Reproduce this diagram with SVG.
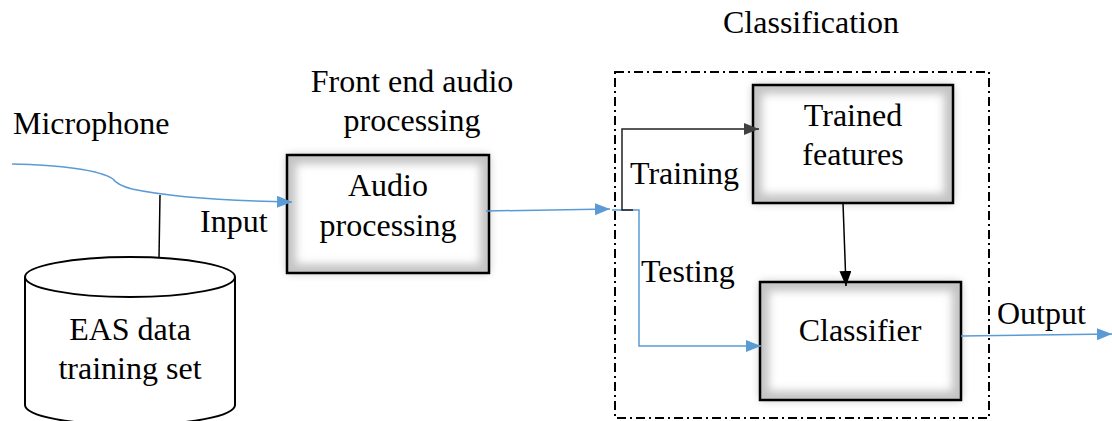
<svg xmlns="http://www.w3.org/2000/svg" width="1112" height="421" viewBox="0 0 1112 421">
<defs>
<filter id="blur" x="-20%" y="-20%" width="140%" height="140%"><feGaussianBlur stdDeviation="4"/></filter>
<filter id="blur2" x="-20%" y="-20%" width="140%" height="140%"><feGaussianBlur stdDeviation="5"/></filter>
<marker id="ab" markerUnits="userSpaceOnUse" markerWidth="16" markerHeight="14" refX="15" refY="6" orient="auto"><path d="M0,0 L15,6 L0,12 z" fill="#5B9BD5"/></marker>
<marker id="ad" markerUnits="userSpaceOnUse" markerWidth="16" markerHeight="14" refX="15" refY="6" orient="auto"><path d="M0,0 L15,6 L0,12 z" fill="#404040"/></marker>
<marker id="ak" markerUnits="userSpaceOnUse" markerWidth="16" markerHeight="14" refX="15" refY="6" orient="auto"><path d="M0,0 L15,6 L0,12 z" fill="#000"/></marker>
<clipPath id="c1"><rect x="287" y="155" width="202" height="118"/></clipPath>
<clipPath id="c2"><rect x="753" y="85" width="200" height="118"/></clipPath>
<clipPath id="c3"><rect x="760" y="282" width="201" height="118"/></clipPath>
</defs>
<rect width="1112" height="421" fill="#fff"/>

<g id="labels" font-size="32" font-family="Liberation Serif">
<text x="811" y="33" text-anchor="middle">Classification</text>
<text x="412" y="92" text-anchor="middle">Front end audio</text>
<text x="412" y="131" text-anchor="middle">processing</text>
<text x="13" y="134">Microphone</text>
<text x="200" y="232">Input</text>
<text x="630" y="184">Training</text>
<text x="641" y="282">Testing</text>
<text x="997" y="324">Output</text>
</g>

<g id="classification-group">
<rect x="615" y="72" width="374" height="346" fill="none" stroke="#000" stroke-width="2" stroke-dasharray="9,4,2,4"/>
</g>

<g id="eas-data" font-size="32" font-family="Liberation Serif">
<path d="M25,277 L25,405 A105,20 0 0 0 235,405 L235,277" fill="#fff" stroke="#000" stroke-width="2"/>
<ellipse cx="130" cy="277" rx="105" ry="20" fill="#fff" stroke="#000" stroke-width="2"/>
<text x="130" y="340" text-anchor="middle">EAS data</text>
<text x="130" y="379" text-anchor="middle">training set</text>
</g>

<g id="audio-processing" font-size="32" font-family="Liberation Serif">
<rect x="287" y="155" width="202" height="118" fill="#000" opacity="0.25" filter="url(#blur2)"/>
<rect x="287" y="155" width="202" height="118" fill="#fff"/>
<g clip-path="url(#c1)"><rect x="287" y="155" width="202" height="118" fill="none" stroke="#c4c4c4" stroke-width="18" filter="url(#blur)"/></g>
<rect x="287" y="155" width="202" height="118" fill="none" stroke="#000" stroke-width="2.5"/>
<text x="388" y="196" text-anchor="middle">Audio</text>
<text x="388" y="236" text-anchor="middle">processing</text>
</g>

<g id="trained-features" font-size="32" font-family="Liberation Serif">
<rect x="753" y="85" width="200" height="118" fill="#000" opacity="0.25" filter="url(#blur2)"/>
<rect x="753" y="85" width="200" height="118" fill="#fff"/>
<g clip-path="url(#c2)"><rect x="753" y="85" width="200" height="118" fill="none" stroke="#c4c4c4" stroke-width="18" filter="url(#blur)"/></g>
<rect x="753" y="85" width="200" height="118" fill="none" stroke="#000" stroke-width="2.5"/>
<text x="853" y="126" text-anchor="middle">Trained</text>
<text x="853" y="165" text-anchor="middle">features</text>
</g>

<g id="classifier" font-size="32" font-family="Liberation Serif">
<rect x="760" y="282" width="201" height="118" fill="#000" opacity="0.25" filter="url(#blur2)"/>
<rect x="760" y="282" width="201" height="118" fill="#fff"/>
<g clip-path="url(#c3)"><rect x="760" y="282" width="201" height="118" fill="none" stroke="#c4c4c4" stroke-width="18" filter="url(#blur)"/></g>
<rect x="760" y="282" width="201" height="118" fill="none" stroke="#000" stroke-width="2.5"/>
<text x="860" y="341" text-anchor="middle">Classifier</text>
</g>

<g id="connectors" fill="none" stroke-width="1.5">
<path stroke="#5B9BD5" d="M12,164 C60,165 100,170 113,179 Q117,185 132,189 C170,197 230,201 292,202" marker-end="url(#ab)"/>
<path stroke="#000" d="M160,195 L159,258"/>
<path stroke="#5B9BD5" d="M486,211 L610,209" marker-end="url(#ab)"/>
<path stroke="#5B9BD5" d="M612,210 L639,210 L639,346 L761,346" marker-end="url(#ab)"/>
<path stroke="#222" d="M633,210 L622,210 L622,129 L759,129" marker-end="url(#ad)"/>
<path stroke="#000" d="M843,203 L846,286" marker-end="url(#ak)"/>
<path stroke="#5B9BD5" d="M961,336 L1112,334" marker-end="url(#ab)"/>
</g>
</svg>
